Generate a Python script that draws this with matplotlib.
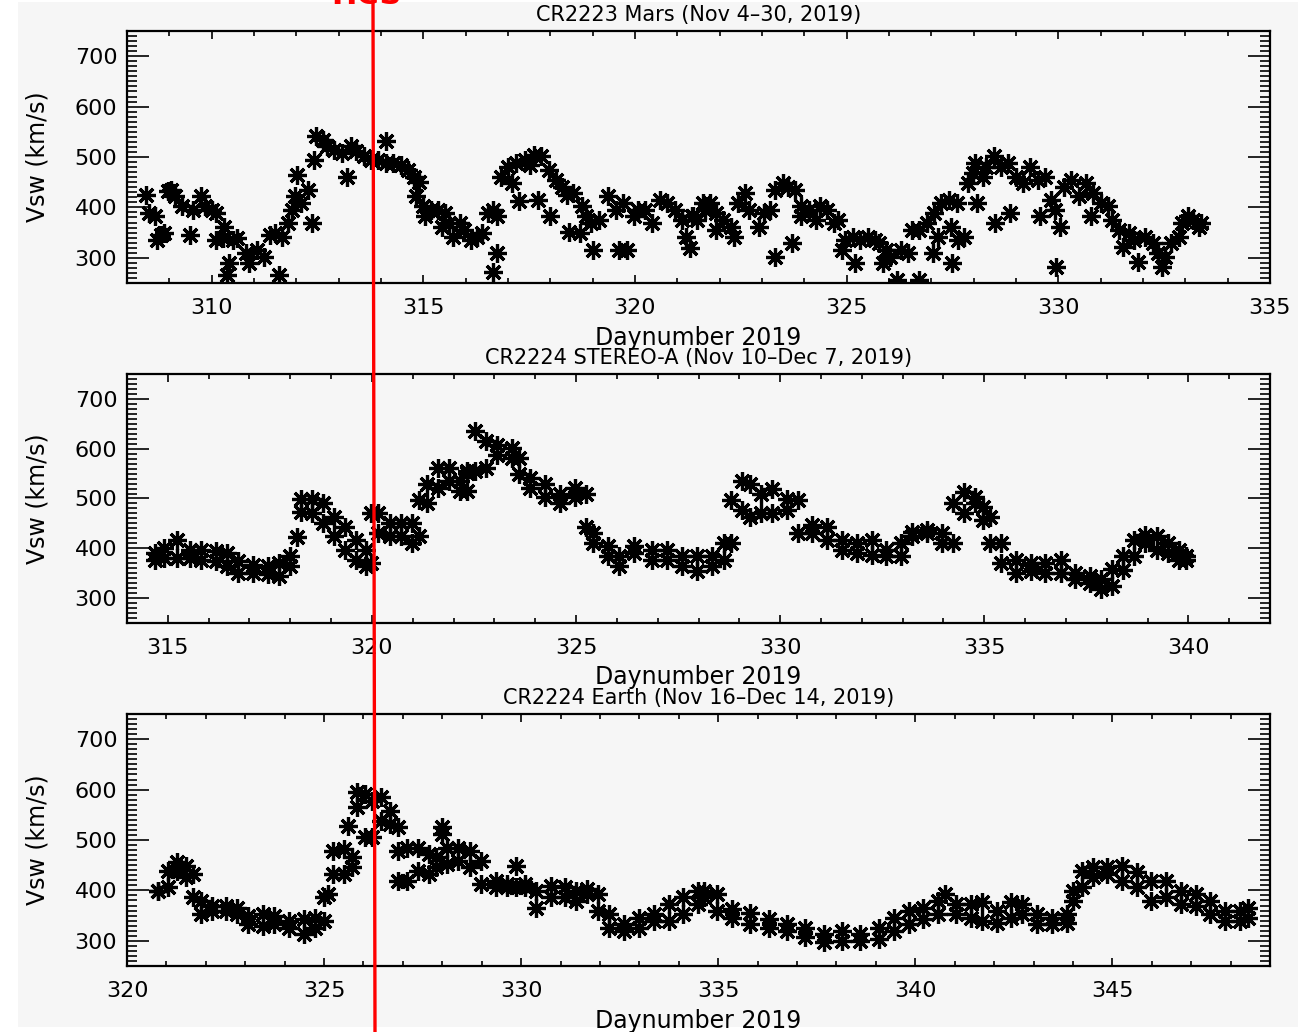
import matplotlib
matplotlib.use('Agg')
import matplotlib.pyplot as plt
from matplotlib.patches import Rectangle
from matplotlib.lines import Line2D
from matplotlib.ticker import MultipleLocator

# ---------------- data ----------------
titles = ["CR2223 Mars (Nov 4\u201330, 2019)",
          "CR2224 STEREO-A (Nov 10\u2013Dec 7, 2019)",
          "CR2224 Earth (Nov 16\u2013Dec 14, 2019)"]
xlabel = "Daynumber 2019"
ylabel = "Vsw (km/s)"
xlims = [(308, 335), (314, 342), (320, 349)]
ylim = (250, 750)

# Mars (individual asterisks)
day1 = [308.44, 308.52, 308.66, 308.80, 308.70, 308.87, 308.96, 309.05, 309.14, 309.30,
        309.49, 309.57, 309.75, 309.84, 310.00, 310.10, 310.10, 310.27, 310.30, 310.36,
        310.40, 310.50, 310.60, 310.80, 310.88, 311.06, 311.23, 311.37, 311.50, 311.58,
        311.67, 311.80, 311.89, 311.98, 312.02, 312.10, 312.28, 312.37, 312.41, 312.46,
        312.63, 312.72, 312.90, 313.07, 313.20, 313.29, 313.42, 313.60, 313.77, 313.94,
        314.12, 314.12, 314.29, 314.47, 314.64, 314.77, 314.82, 314.90, 314.99, 315.04,
        315.17, 315.34, 315.43, 315.52, 315.60, 315.69, 315.87, 315.95, 316.13, 316.26,
        316.39, 316.52, 316.65, 316.65, 316.74, 316.74, 316.83, 317.00, 317.09, 317.18,
        317.27, 317.40, 317.53, 317.62, 317.70, 317.79, 317.97, 318.00, 318.14, 318.27,
        318.40, 318.45, 318.53, 318.70, 318.75, 318.84, 318.97, 319.00, 319.15, 319.36,
        319.54, 319.63, 319.71, 319.80, 319.98, 320.06, 320.24, 320.41, 320.59, 320.76,
        320.94, 321.10, 321.20, 321.29, 321.34, 321.37, 321.47, 321.60, 321.65, 321.78,
        321.91, 321.91, 322.09, 322.26, 322.35, 322.44, 322.61, 322.70, 322.92, 323.05,
        323.18, 323.31, 323.31, 323.49, 323.62, 323.70, 323.79, 323.92, 323.92, 324.10,
        324.27, 324.36, 324.53, 324.71, 324.80, 324.88, 324.97, 325.15, 325.19, 325.32,
        325.50, 325.67, 325.76, 325.85, 325.93, 326.02, 326.20, 326.28, 326.46, 326.54,
        326.72, 326.72, 326.89, 327.03, 327.07, 327.16, 327.24, 327.42, 327.46, 327.50,
        327.60, 327.64, 327.77, 327.86, 327.99, 328.03, 328.07, 328.21, 328.30, 328.47,
        328.51, 328.64, 328.82, 328.86, 328.99, 329.17, 329.34, 329.52, 329.56, 329.69,
        329.82, 329.91, 329.95, 330.04, 330.13, 330.30, 330.48, 330.65, 330.78, 330.83,
        331.00, 331.18, 331.27, 331.44, 331.53, 331.66, 331.79, 331.88, 332.05, 332.23,
        332.36, 332.45, 332.53, 332.66, 332.84, 332.93, 333.06, 333.19, 333.32, 333.36]
v1 = [425, 388, 382, 345, 335, 349, 432, 435, 422, 402,
      345, 395, 422, 402, 395, 388, 335, 339, 362, 266,
      289, 335, 339, 309, 289, 316, 302, 345, 349, 266,
      342, 369, 395, 422, 465, 408, 435, 369, 495, 541,
      534, 521, 514, 508, 461, 521, 511, 501, 495, 495,
      531, 488, 488, 485, 475, 461, 422, 451, 402, 382,
      395, 395, 362, 388, 369, 342, 369, 355, 335, 342,
      349, 388, 395, 272, 382, 309, 461, 481, 448, 488,
      412, 495, 485, 504, 415, 501, 475, 382, 455, 441,
      425, 352, 428, 349, 402, 382, 369, 316, 375, 422,
      395, 316, 408, 316, 382, 395, 395, 369, 415, 408,
      395, 375, 342, 319, 382, 382, 375, 408, 395, 408,
      388, 355, 375, 362, 342, 408, 428, 395, 362, 388,
      395, 302, 435, 448, 441, 329, 435, 402, 382, 395,
      375, 402, 395, 369, 375, 316, 335, 342, 289, 335,
      342, 335, 329, 289, 316, 302, 256, 316, 309, 355,
      256, 355, 369, 309, 388, 342, 408, 415, 362, 289,
      408, 335, 342, 448, 468, 488, 408, 461, 481, 501,
      369, 481, 488, 388, 461, 448, 481, 455, 382, 461,
      415, 395, 282, 362, 441, 455, 422, 448, 382, 428,
      408, 402, 375, 355, 322, 349, 335, 292, 342, 329,
      309, 282, 302, 329, 342, 369, 382, 375, 362, 369]

# STEREO-A (upper and lower edge of the band)
day2 = [314.68, 314.91, 315.22, 315.54, 315.81, 316.18, 316.45, 316.72, 317.08, 317.45,
        317.72, 317.99, 318.26, 318.53, 318.80, 319.08, 319.35, 319.62, 319.85, 319.98,
        320.16, 320.44, 320.71, 320.98, 321.16, 321.34, 321.62, 321.89, 322.16, 322.34,
        322.52, 322.79, 323.07, 323.43, 323.61, 323.88, 324.24, 324.61, 324.97, 325.24,
        325.42, 325.79, 326.06, 326.42, 326.87, 327.24, 327.60, 327.96, 328.34, 328.62,
        328.80, 329.07, 329.25, 329.52, 329.79, 330.16, 330.43, 330.79, 331.15, 331.52,
        331.88, 332.24, 332.60, 332.97, 333.24, 333.60, 333.97, 334.24, 334.51, 334.78,
        334.96, 335.14, 335.42, 335.78, 336.14, 336.50, 336.87, 337.23, 337.59, 337.86,
        338.14, 338.41, 338.68, 338.95, 339.22, 339.50, 339.77, 339.95]
v2_hi = [390, 400, 417, 397, 397, 394, 390, 374, 367, 364,
         371, 384, 499, 499, 490, 463, 443, 417, 397, 470,
         470, 450, 450, 450, 496, 529, 562, 562, 536, 555,
         635, 615, 608, 602, 582, 542, 529, 509, 522, 509,
         430, 404, 384, 404, 397, 397, 384, 384, 384, 410,
         496, 536, 529, 509, 519, 499, 496, 447, 443, 417,
         410, 417, 397, 410, 433, 437, 430, 490, 513, 503,
         483, 463, 410, 377, 371, 371, 377, 351, 344, 338,
         358, 384, 417, 427, 424, 410, 397, 384]
v2_lo = [377, 381, 381, 381, 377, 374, 364, 351, 351, 348,
         344, 364, 473, 470, 450, 424, 397, 377, 364, 371,
         430, 424, 424, 410, 424, 490, 522, 536, 516, 516,
         555, 562, 588, 582, 549, 522, 503, 490, 503, 443,
         410, 384, 364, 390, 377, 377, 364, 354, 364, 377,
         410, 476, 463, 470, 470, 476, 430, 430, 417, 397,
         390, 387, 384, 384, 424, 430, 410, 410, 470, 490,
         456, 410, 371, 351, 354, 351, 351, 338, 331, 318,
         325, 357, 384, 410, 397, 390, 377, 377]
day2_x = [318.17, 322.34]
v2_x = [423, 552]

# Earth (upper and lower edge of the band)
day3 = [320.79, 321.03, 321.26, 321.50, 321.68, 321.87, 322.15, 322.52, 322.80, 323.08,
        323.46, 323.74, 324.11, 324.49, 324.77, 325.00, 325.23, 325.51, 325.70, 325.84,
        326.03, 326.21, 326.45, 326.68, 326.87, 327.10, 327.38, 327.66, 327.85, 327.99,
        328.13, 328.41, 328.69, 328.97, 329.35, 329.63, 329.86, 330.09, 330.37, 330.75,
        331.12, 331.40, 331.68, 331.96, 332.24, 332.62, 332.99, 333.36, 333.74, 334.11,
        334.49, 334.64, 334.97, 335.34, 335.81, 336.28, 336.74, 337.21, 337.68, 338.15,
        338.61, 339.08, 339.45, 339.83, 340.20, 340.58, 341.04, 341.42, 341.70, 342.07,
        342.44, 342.72, 343.10, 343.47, 343.85, 343.99, 344.22, 344.50, 344.87, 345.25,
        345.62, 345.99, 346.37, 346.74, 347.12, 347.49, 347.87, 348.24, 348.43]
v3_hi = [399, 439, 456, 449, 432, 379, 370, 370, 366, 350,
         353, 350, 340, 343, 346, 386, 479, 482, 466, 595,
         591, 578, 585, 558, 479, 485, 485, 472, 466, 525,
         485, 485, 479, 459, 419, 413, 449, 413, 399, 409,
         406, 399, 403, 393, 353, 333, 346, 353, 373, 386,
         399, 399, 393, 363, 356, 343, 333, 326, 313, 320,
         313, 326, 346, 360, 366, 379, 373, 373, 376, 360,
         376, 373, 353, 346, 353, 399, 439, 446, 446, 449,
         436, 419, 419, 399, 393, 379, 360, 360, 366]
v3_lo = [399, 406, 439, 426, 386, 353, 360, 360, 353, 333,
         330, 333, 326, 313, 326, 340, 432, 432, 446, 565,
         505, 505, 538, 532, 419, 419, 439, 432, 446, 512,
         452, 459, 446, 413, 406, 406, 406, 406, 366, 386,
         386, 379, 393, 360, 326, 320, 326, 340, 340, 353,
         373, 386, 360, 346, 333, 326, 320, 307, 297, 300,
         300, 303, 320, 333, 343, 353, 353, 346, 340, 336,
         346, 353, 333, 333, 336, 379, 406, 426, 432, 419,
         406, 379, 386, 373, 370, 353, 340, 340, 346]
day3_x = [325.09, 325.60, 326.87, 340.76]
v3_x = [393, 528, 525, 393]

# ---------------- figure ----------------
W, H = 1298, 1032
fig = plt.figure(figsize=(W / 100, H / 100), dpi=100)
fig.patch.set_facecolor('white')
BG = '#f6f6f6'
bg = Rectangle((18 / W, 1 - 1027 / H), (W - 18) / W, (1027 - 2) / H,
               transform=fig.transFigure, facecolor=BG, edgecolor='none', zorder=-10)
fig.patches.append(bg)

rects = [(127, 31, 283), (127, 374, 623), (127, 714, 966)]
axes = []
for (l, t, b) in rects:
    ax = fig.add_axes([l / W, 1 - b / H, (1270 - l) / W, (b - t) / H])
    axes.append(ax)

mk = dict(linestyle='none', marker=(8, 2, 0), markersize=13.5, markeredgewidth=2.3,
          color='black', markeredgecolor='black')

axes[0].plot(day1, v1, **mk)
axes[1].plot(day2, v2_hi, **mk)
axes[1].plot(day2, v2_lo, **mk)
axes[1].plot(day2_x, v2_x, **mk)
axes[2].plot(day3, v3_hi, **mk)
axes[2].plot(day3, v3_lo, **mk)
axes[2].plot(day3_x, v3_x, **mk)

for i, ax in enumerate(axes):
    ax.set_facecolor(BG)
    ax.set_xlim(*xlims[i])
    ax.set_ylim(*ylim)
    ax.xaxis.set_major_locator(MultipleLocator(5))
    ax.xaxis.set_minor_locator(MultipleLocator(1))
    ax.yaxis.set_major_locator(MultipleLocator(100))
    ax.yaxis.set_minor_locator(MultipleLocator(10))
    ax.tick_params(which='both', direction='in', top=True, right=True,
                   colors='black', labelsize=16)
    ax.tick_params(axis='x', which='major', length=6, width=1.2, pad=11)
    ax.tick_params(axis='x', which='minor', length=3.5, width=1.2)
    ax.tick_params(axis='y', which='major', length=16, width=1.2, pad=7)
    ax.tick_params(axis='y', which='minor', length=7, width=1.2)
    for sp in ax.spines.values():
        sp.set_linewidth(1.6)
    ax.text(0.5, 1.065, titles[i], transform=ax.transAxes, ha='center', va='center',
            fontsize=15)
    xl = ax.text(0.5, -0.218, xlabel, transform=ax.transAxes, ha='center', va='center',
                 fontsize=17)
    xl.set_clip_path(bg)
    ax.text(-0.078, 0.5, ylabel, transform=ax.transAxes, ha='center', va='center',
            rotation=90, fontsize=17)

# red vertical marker line across all panels and its (cut-off) label
fig.lines.append(Line2D([373 / W, 375 / W], [1.0, 0.0], transform=fig.transFigure,
                        color='red', linewidth=2.4, zorder=20))
fig.text(366 / W, 1 - 4 / H, "HCS", color='red', fontsize=22, fontweight='bold',
         ha='center', va='baseline')

fig.savefig('out.png', dpi=100, facecolor='white')
